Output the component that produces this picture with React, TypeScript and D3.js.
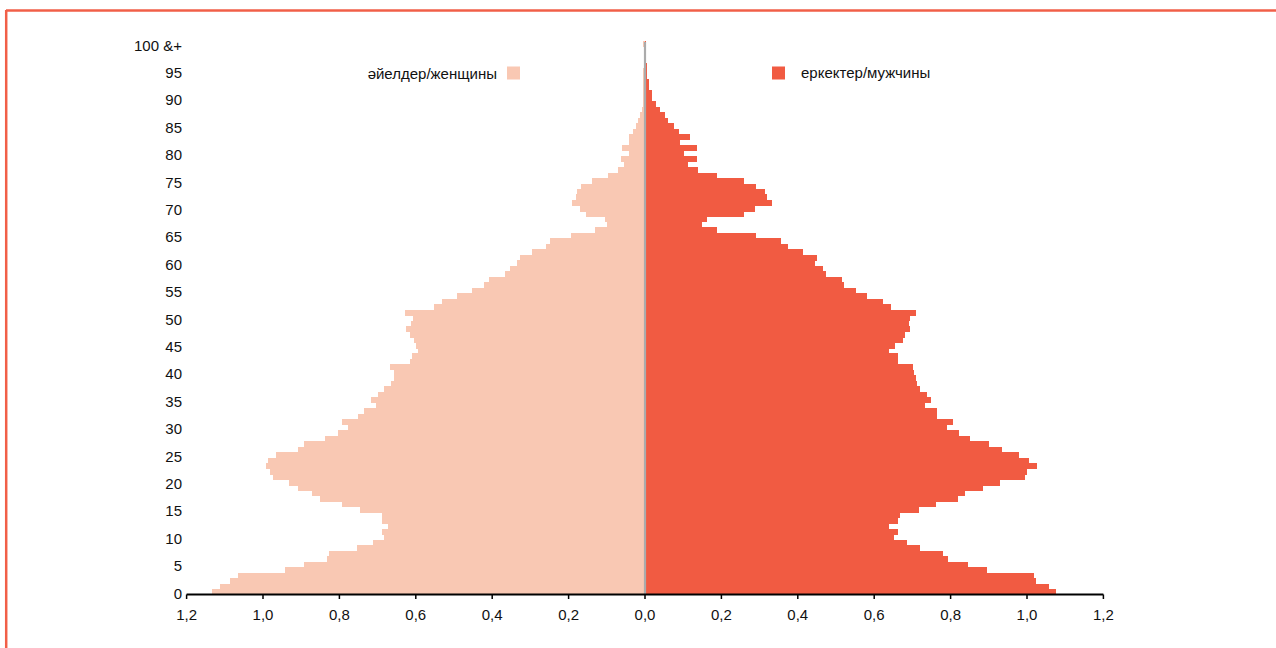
import React from "react";
import * as d3 from "d3";

const ages: number[] = Array.from({ length: 101 }, (_, i) => i);

const female: number[] = [
  1.134, 1.113, 1.087, 1.066, 0.943, 0.893, 0.832, 0.828, 0.754, 0.712,
  0.683, 0.688, 0.673, 0.688, 0.688, 0.746, 0.793, 0.851, 0.872, 0.909,
  0.932, 0.974, 0.982, 0.991, 0.988, 0.966, 0.909, 0.893, 0.838, 0.804,
  0.778, 0.793, 0.752, 0.736, 0.704, 0.717, 0.699, 0.683, 0.665, 0.658,
  0.658, 0.667, 0.615, 0.609, 0.593, 0.599, 0.605, 0.615, 0.625, 0.612,
  0.608, 0.628, 0.552, 0.531, 0.491, 0.452, 0.421, 0.408, 0.366, 0.353,
  0.334, 0.327, 0.295, 0.258, 0.248, 0.193, 0.130, 0.099, 0.104, 0.154,
  0.169, 0.190, 0.180, 0.177, 0.167, 0.140, 0.096, 0.070, 0.054, 0.062,
  0.042, 0.059, 0.042, 0.042, 0.031, 0.023, 0.018, 0.012, 0.008, 0.006,
  0.006, 0.005, 0.005, 0.004, 0.004, 0.004, 0.003, 0.003, 0.003, 0.003,
  0.004,
];

const male: number[] = [
  1.075, 1.058, 1.024, 1.018, 0.895, 0.846, 0.792, 0.779, 0.721, 0.687,
  0.652, 0.662, 0.640, 0.661, 0.667, 0.718, 0.762, 0.820, 0.839, 0.886,
  0.930, 0.994, 1.001, 1.027, 1.005, 0.980, 0.934, 0.900, 0.851, 0.821,
  0.790, 0.806, 0.764, 0.764, 0.732, 0.748, 0.738, 0.720, 0.713, 0.710,
  0.704, 0.702, 0.662, 0.662, 0.639, 0.654, 0.676, 0.680, 0.695, 0.692,
  0.694, 0.709, 0.645, 0.623, 0.582, 0.552, 0.522, 0.516, 0.475, 0.467,
  0.446, 0.449, 0.414, 0.375, 0.355, 0.290, 0.189, 0.148, 0.162, 0.259,
  0.289, 0.333, 0.320, 0.314, 0.291, 0.259, 0.189, 0.140, 0.112, 0.137,
  0.102, 0.137, 0.091, 0.118, 0.090, 0.076, 0.060, 0.053, 0.038, 0.028,
  0.018, 0.018, 0.010, 0.010, 0.006, 0.005, 0.004, 0.003, 0.003, 0.002,
  0.003,
];

const xTicks: number[] = [-1.2, -1.0, -0.8, -0.6, -0.4, -0.2, 0, 0.2, 0.4, 0.6, 0.8, 1.0, 1.2];
const yTickAges: number[] = [0, 5, 10, 15, 20, 25, 30, 35, 40, 45, 50, 55, 60, 65, 70, 75, 80, 85, 90, 95, 100];
const yTickLabel = (a: number) => (a === 100 ? "100 &+" : String(a));

const femaleLabel = "әйелдер/женщины";
const maleLabel = "еркектер/мужчины";

const FEMALE_COLOR = "#F9C8B3";
const MALE_COLOR = "#F15B42";
const FONT = "'Liberation Sans', Arial, Helvetica, sans-serif";

export default function App() {
  const W = 1276;
  const H = 648;
  const x = d3.scaleLinear().domain([-1.2, 1.2]).range([186.6, 1103.4]);
  const y = d3
    .scaleBand<number>()
    .domain(ages)
    .range([594.5, 594.5 - 101 * 5.48])
    .padding(0);
  const bw = y.bandwidth();
  const fmt = (v: number) => Math.abs(v).toFixed(1).replace(".", ",");
  const x0 = x(0);
  const top = y(100)!;

  return (
    <svg
      width={W}
      height={H}
      style={{ position: "absolute", left: 0, top: 0, display: "block" }}
      fontFamily={FONT}
    >
      <rect x={0} y={0} width={W} height={H} fill="#ffffff" />
      {/* frame */}
      <line x1={6} y1={10.5} x2={W} y2={10.5} stroke="#F15F48" strokeWidth={2.5} />
      <line x1={6.2} y1={10} x2={6.2} y2={H} stroke="#F15F48" strokeWidth={2.5} />

      {/* female bars */}
      <g shapeRendering="crispEdges">
        {ages.map((a, i) => (
          <rect
            key={"f" + a}
            x={x(-female[i])}
            y={y(a)!}
            width={x0 - x(-female[i])}
            height={bw + 0.6}
            fill={FEMALE_COLOR}
          />
        ))}
        {/* male bars */}
        {ages.map((a, i) => (
          <rect
            key={"m" + a}
            x={x0}
            y={y(a)!}
            width={x(male[i]) - x0}
            height={bw + 0.6}
            fill={MALE_COLOR}
          />
        ))}
      </g>
      {/* center gray line */}
      <line x1={x0} y1={top + 1} x2={x0} y2={594} stroke="#ABABAB" strokeWidth={2.2} />

      {/* x axis */}
      <line x1={x(-1.2)} y1={594.5} x2={x(1.2)} y2={594.5} stroke="#000" strokeWidth={2.2} />
      {xTicks.map((t) => (
        <g key={"xt" + t}>
          <line x1={x(t)} y1={594.5} x2={x(t)} y2={599} stroke="#000" strokeWidth={1.5} />
          <text x={x(t)} y={620} textAnchor="middle" fontSize={15} fill="#111">
            {fmt(t)}
          </text>
        </g>
      ))}

      {/* y labels */}
      {yTickAges.map((a) => (
        <text
          key={"yt" + a}
          x={182}
          y={y(a)! + bw / 2 + 1.5}
          dy="0.35em"
          textAnchor="end"
          fontSize={15}
          fill="#111"
        >
          {yTickLabel(a)}
        </text>
      ))}

      {/* legend */}
      <text x={497} y={73.5} dy="0.35em" textAnchor="end" fontSize={15} fill="#111">
        {femaleLabel}
      </text>
      <rect x={507} y={66.5} width={13} height={13} fill={FEMALE_COLOR} />
      <rect x={772} y={66.5} width={13} height={13} fill={MALE_COLOR} />
      <text x={801} y={72.5} dy="0.35em" textAnchor="start" fontSize={15} fill="#111">
        {maleLabel}
      </text>
    </svg>
  );
}
